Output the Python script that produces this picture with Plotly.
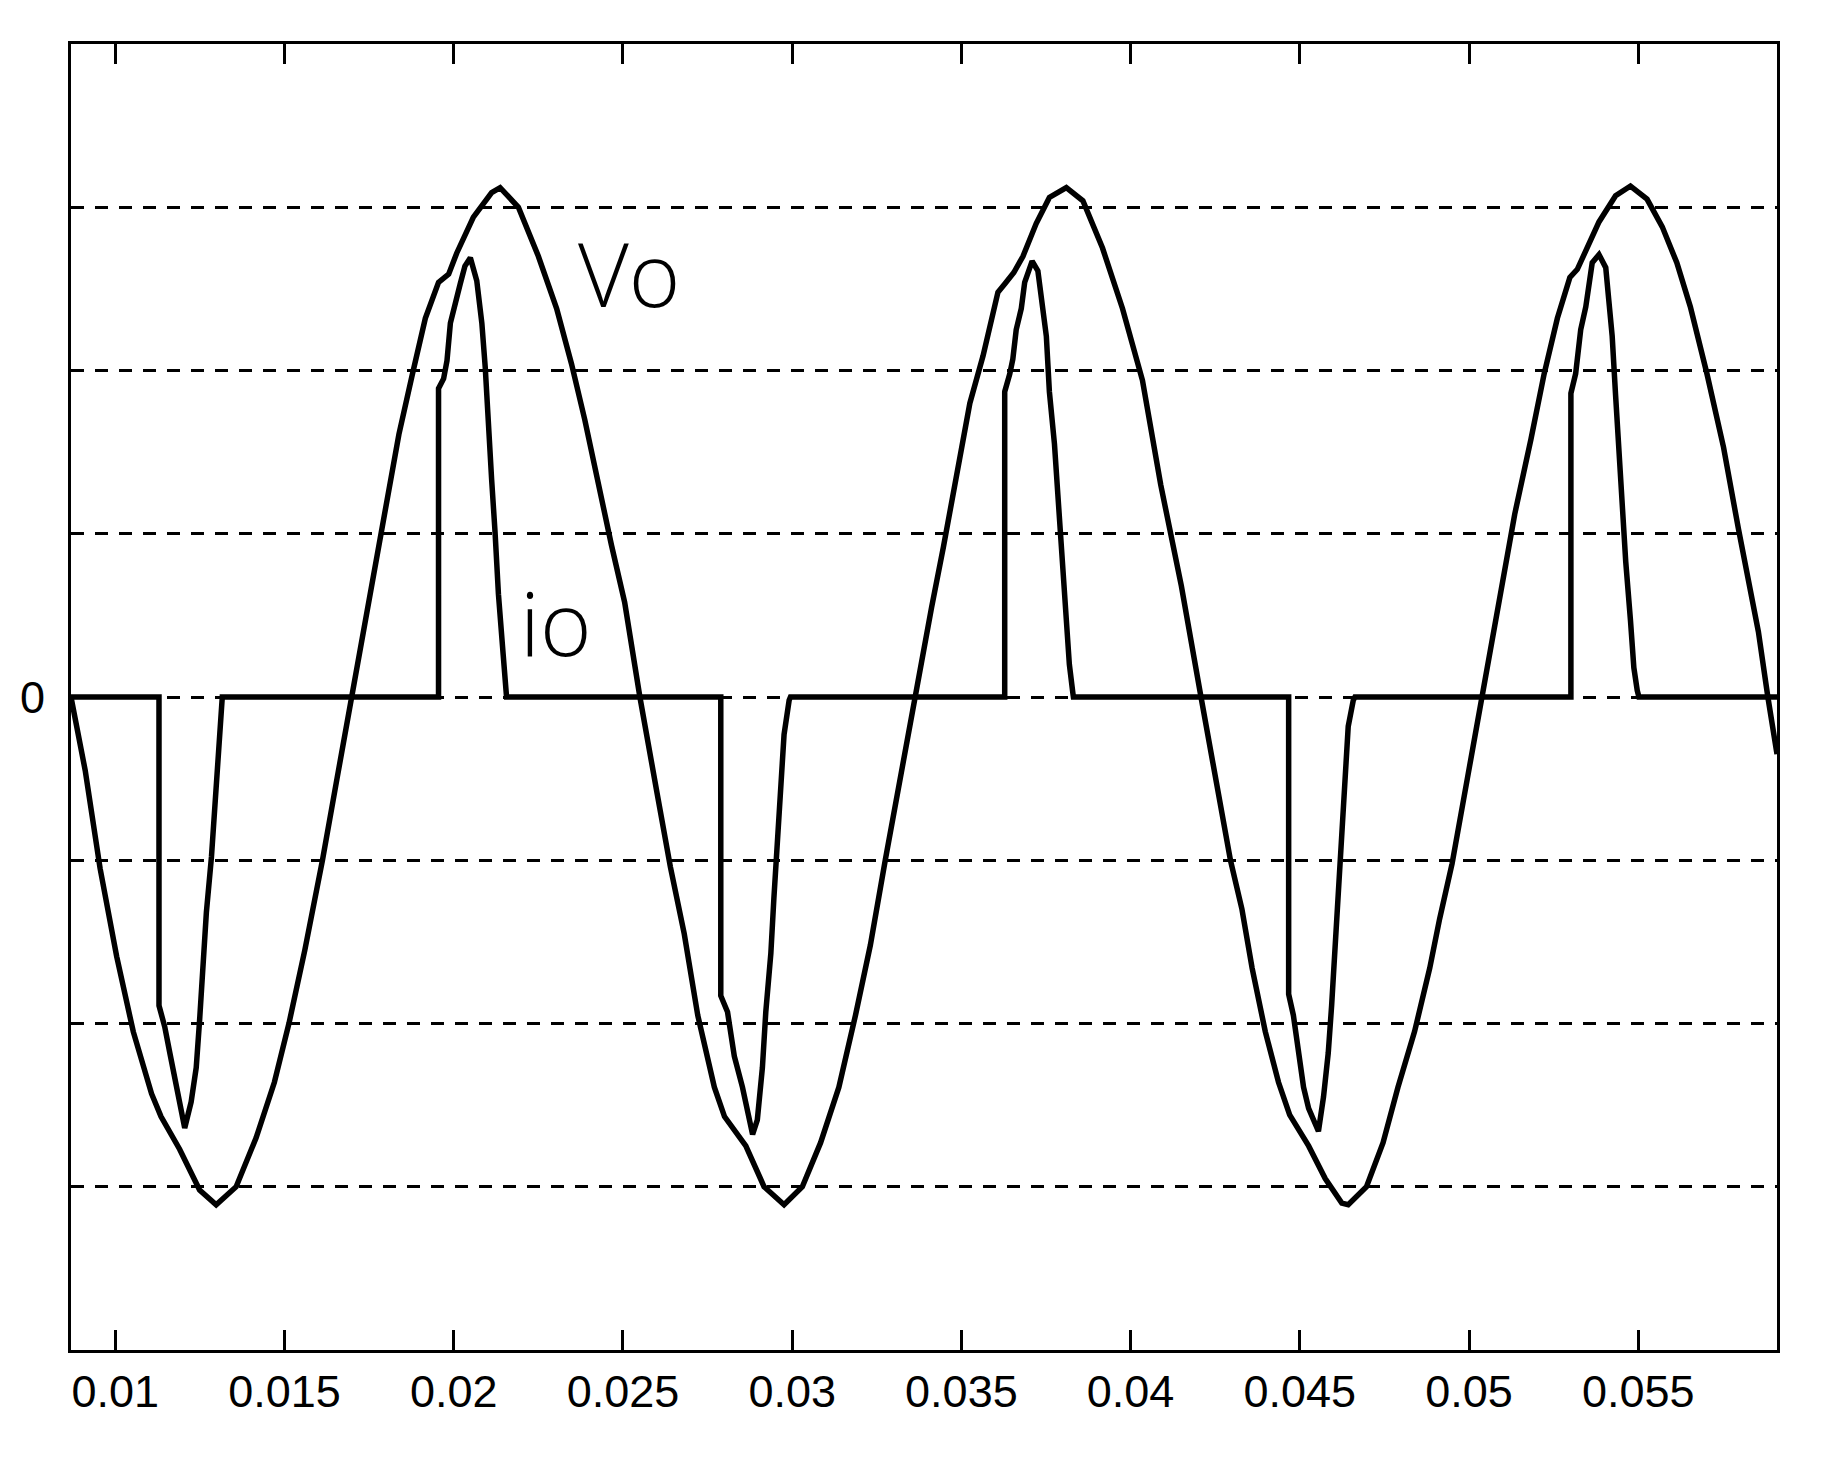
import plotly.graph_objects as go

# ---- data ----
t_vo = [0.00869, 0.00911, 0.00955, 0.01004, 0.01053, 0.01107, 0.01135, 0.01190, 0.01249, 0.01298,
        0.01357, 0.01416, 0.01470, 0.01513, 0.01560, 0.01612, 0.01655, 0.01698, 0.01745, 0.01798,
        0.01838, 0.01877, 0.01916, 0.01955, 0.01985, 0.02009, 0.02058, 0.02112, 0.02137, 0.02191,
        0.02250, 0.02304, 0.02348, 0.02387, 0.02426, 0.02466, 0.02505, 0.02550, 0.02600, 0.02640,
        0.02681, 0.02721, 0.02770, 0.02800, 0.02863, 0.02917, 0.02976, 0.03030, 0.03084, 0.03138,
        0.03187, 0.03231, 0.03275, 0.03318, 0.03365, 0.03412, 0.03447, 0.03486, 0.03525, 0.03564,
        0.03608, 0.03628, 0.03655, 0.03682, 0.03721, 0.03760, 0.03810, 0.03859, 0.03917, 0.03976,
        0.04035, 0.04089, 0.04150, 0.04208, 0.04255, 0.04295, 0.04329, 0.04359, 0.04398, 0.04437,
        0.04470, 0.04526, 0.04575, 0.04624, 0.04643, 0.04697, 0.04746, 0.04790, 0.04839, 0.04884,
        0.04913, 0.04950, 0.04995, 0.05038, 0.05085, 0.05135, 0.05183, 0.05222, 0.05261, 0.05298,
        0.05320, 0.05345, 0.05384, 0.05433, 0.05477, 0.05526, 0.05571, 0.05614, 0.05654, 0.05703,
        0.05752, 0.05796, 0.05855, 0.05883, 0.05910]
vo = [0.00, -0.45, -1.05, -1.59, -2.05, -2.43, -2.57, -2.77, -3.02, -3.11,
      -3.00, -2.70, -2.36, -2.00, -1.55, -1.00, -0.50, 0.00, 0.55, 1.12,
      1.61, 1.97, 2.32, 2.54, 2.59, 2.72, 2.94, 3.09, 3.12, 3.00,
      2.70, 2.38, 2.04, 1.70, 1.31, 0.93, 0.58, 0.00, -0.58, -1.04,
      -1.45, -1.95, -2.39, -2.57, -2.75, -3.00, -3.11, -3.00, -2.73, -2.39,
      -1.95, -1.52, -1.00, -0.50, 0.00, 0.55, 0.92, 1.35, 1.80, 2.09,
      2.48, 2.53, 2.60, 2.70, 2.90, 3.06, 3.12, 3.04, 2.75, 2.38,
      1.94, 1.30, 0.68, 0.00, -0.55, -1.00, -1.30, -1.66, -2.05, -2.36,
      -2.56, -2.75, -2.95, -3.10, -3.11, -3.00, -2.73, -2.39, -2.05, -1.66,
      -1.36, -1.02, -0.50, 0.00, 0.55, 1.12, 1.58, 1.98, 2.32, 2.57,
      2.62, 2.73, 2.91, 3.07, 3.13, 3.05, 2.88, 2.66, 2.39, 1.98,
      1.53, 1.03, 0.40, 0.00, -0.35]

t_io = [0.00869, 0.01129, 0.01129, 0.01146, 0.01161, 0.01175, 0.01190, 0.01205, 0.01224, 0.01239,
        0.01249, 0.01259, 0.01269, 0.01284, 0.01294, 0.01304, 0.01316,
        0.01955, 0.01955, 0.01970, 0.01980, 0.01990, 0.02004, 0.02019, 0.02033, 0.02049, 0.02068,
        0.02083, 0.02093, 0.02102, 0.02112, 0.02122, 0.02132, 0.02146, 0.02151, 0.02156,
        0.02789, 0.02789, 0.02809, 0.02829, 0.02853, 0.02873, 0.02883, 0.02897, 0.02912, 0.02922,
        0.02937, 0.02946, 0.02956, 0.02966, 0.02976, 0.02991, 0.02995,
        0.03628, 0.03628, 0.03643, 0.03652, 0.03662, 0.03677, 0.03687, 0.03700, 0.03709, 0.03726,
        0.03736, 0.03751, 0.03760, 0.03775, 0.03785, 0.03795, 0.03805, 0.03819, 0.03829, 0.03831,
        0.04467, 0.04467, 0.04481, 0.04496, 0.04511, 0.04526, 0.04555, 0.04570, 0.04584, 0.04594,
        0.04604, 0.04614, 0.04624, 0.04634, 0.04643, 0.04658, 0.04663,
        0.05301, 0.05301, 0.05315, 0.05330, 0.05345, 0.05355, 0.05364, 0.05384, 0.05404, 0.05413,
        0.05423, 0.05433, 0.05443, 0.05453, 0.05463, 0.05477, 0.05487, 0.05497, 0.05502,
        0.05910]
io = [0, 0, -1.89, -2.02, -2.18, -2.32, -2.45, -2.64, -2.48, -2.27,
      -1.98, -1.64, -1.32, -0.98, -0.66, -0.32, 0,
      0, 1.89, 1.95, 2.06, 2.29, 2.42, 2.53, 2.64, 2.69, 2.55,
      2.29, 2.02, 1.65, 1.33, 1.01, 0.63, 0.26, 0.07, 0,
      0, -1.83, -1.93, -2.20, -2.39, -2.59, -2.68, -2.59, -2.27, -1.93,
      -1.57, -1.23, -0.89, -0.55, -0.23, -0.02, 0,
      0, 1.87, 1.98, 2.07, 2.25, 2.38, 2.54, 2.63, 2.67, 2.61,
      2.43, 2.21, 1.87, 1.55, 1.24, 0.92, 0.56, 0.20, 0.03, 0,
      0, -1.82, -1.95, -2.18, -2.39, -2.52, -2.66, -2.45, -2.18, -1.89,
      -1.55, -1.20, -0.86, -0.50, -0.18, -0.02, 0,
      0, 1.86, 1.98, 2.25, 2.39, 2.52, 2.66, 2.71, 2.63, 2.43,
      2.21, 1.85, 1.48, 1.17, 0.83, 0.47, 0.18, 0.04, 0,
      0]

x_tick_vals = [0.01, 0.015, 0.02, 0.025, 0.03, 0.035, 0.04, 0.045, 0.05, 0.055]
x_tick_text = ["0.01", "0.015", "0.02", "0.025", "0.03", "0.035", "0.04", "0.045", "0.05", "0.055"]
y_grid_vals = [-3, -2, -1, 0, 1, 2, 3]
y_tick_text = ["", "", "", "0", "", "", ""]
x_range = [0.00869, 0.0591]
y_range = [-4, 4]

label_vo = dict(text="Vo", t=0.02517, v=2.60)
label_io = dict(text="io", t=0.02302, v=0.46)

assert len(t_vo) == len(vo) and len(t_io) == len(io)

fig = go.Figure()
fig.add_trace(go.Scatter(x=t_io, y=io, mode="lines", name="io",
                         line=dict(color="black", width=5.5)))
fig.add_trace(go.Scatter(x=t_vo, y=vo, mode="lines", name="Vo",
                         line=dict(color="black", width=5.5)))

for lab in (label_vo, label_io):
    fig.add_annotation(x=lab["t"], y=lab["v"], xref="x", yref="y", text=lab["text"],
                       showarrow=False, xanchor="center", yanchor="middle",
                       font=dict(family="Open Sans, DejaVu Sans, sans-serif", size=88,
                                 color="black", weight=300))

tick_font = dict(family="Liberation Sans, Arial, sans-serif", size=45, color="black")

# the page body has an 8px margin, so the figure is sized/offset to compensate
fig.update_layout(
    width=1817, height=1442,
    margin=dict(l=56, r=48, t=36, b=100, pad=0),
    paper_bgcolor="white", plot_bgcolor="white",
    showlegend=False,
    xaxis=dict(range=x_range, tickvals=x_tick_vals, ticktext=x_tick_text,
               ticks="inside", ticklen=20, tickwidth=2.5, tickcolor="black",
               showline=True, linecolor="black", linewidth=3, mirror="allticks",
               showgrid=False, zeroline=False, tickfont=tick_font,
               ticklabelstandoff=0),
    yaxis=dict(range=y_range, tickvals=y_grid_vals, ticktext=y_tick_text,
               ticks="", showline=True, linecolor="black", linewidth=3, mirror=True,
               showgrid=True, gridcolor="black", gridwidth=3, griddash="13px,11px",
               zeroline=False, tickfont=tick_font, ticklabelstandoff=14),
)

fig.write_html("out.html")
